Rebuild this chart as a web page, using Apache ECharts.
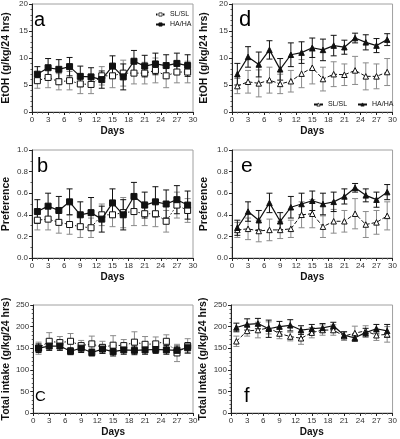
<!DOCTYPE html>
<html><head><meta charset="utf-8">
<script src="https://cdn.jsdelivr.net/npm/echarts@6/dist/echarts.min.js"></script>
<style>html,body{margin:0;padding:0;background:#fff}#c{width:400px;height:439px}</style>
</head><body><div id="c"></div>
<script>
const days = [1,3,5,7,9,11,13,15,17,19,21,23,25,27,29];
// Panel a: EtOH (squares)
const aHA  = [7.0, 8.2, 7.9, 8.4, 6.6, 6.5, 6.0, 8.5, 6.5, 9.4, 8.5, 8.9, 8.6, 9.0, 8.6];
const aHAe = [1.4, 1.7, 1.8, 1.7, 1.9, 1.7, 1.6, 1.9, 2.4, 2.0, 2.0, 2.0, 2.0, 1.9, 2.0];
const aSL  = [5.8, 6.4, 5.6, 5.8, 5.2, 5.1, 6.7, 6.7, 7.2, 7.2, 7.2, 7.7, 6.7, 7.4, 7.4];
const aSLe = [1.4, 1.9, 1.5, 1.7, 1.8, 1.7, 1.7, 2.2, 2.4, 2.0, 2.0, 2.3, 2.2, 2.0, 2.0];
// Panel b: Preference (squares)
const bHA  = [0.43,0.48,0.44,0.52,0.40,0.42,0.36,0.51,0.40,0.57,0.49,0.52,0.50,0.54,0.49];
const bHAe = [0.11,0.12,0.13,0.12,0.12,0.14,0.12,0.13,0.14,0.13,0.12,0.14,0.13,0.13,0.13];
const bSL  = [0.35,0.36,0.33,0.31,0.29,0.28,0.40,0.40,0.42,0.43,0.41,0.41,0.34,0.49,0.44];
const bSLe = [0.09,0.10,0.10,0.09,0.10,0.09,0.10,0.11,0.14,0.13,0.11,0.12,0.10,0.12,0.11];
// Panel c: Total intake (squares)
const cHA  = [150,155,155,143,150,140,148,142,146,145,146,147,146,145,151];
const cHAe = [10,10,10,8,10,8,10,10,10,10,10,9,10,10,12];
const cSL  = [150,166,163,166,156,160,152,157,156,164,159,160,166,139,155];
const cSLe = [14,20,14,18,12,18,14,22,14,24,18,16,15,20,17];
// Panel d: EtOH (triangles)
const dHA  = [7.0,10.2,8.8,11.5,7.9,10.6,11.0,11.9,11.5,12.3,12.0,13.7,12.9,12.3,13.4];
const dHAe = [2.0,1.9,2.3,1.7,2.0,2.2,2.0,1.8,2.0,1.9,1.3,0.9,1.4,1.3,1.1];
const dSL  = [4.8,5.6,5.3,5.9,5.2,5.7,7.1,8.2,6.1,7.0,6.9,7.7,6.6,6.6,7.4];
const dSLe = [1.4,2.1,2.5,2.4,1.8,2.0,2.6,3.0,2.2,2.3,2.0,2.6,2.5,2.3,2.5];
// Panel e: Preference (triangles)
const eHA  = [0.28,0.43,0.35,0.51,0.34,0.47,0.50,0.53,0.50,0.52,0.57,0.65,0.58,0.54,0.61];
const eHAe = [0.07,0.09,0.09,0.09,0.08,0.10,0.10,0.09,0.10,0.09,0.07,0.04,0.06,0.07,0.07];
const eSL  = [0.26,0.27,0.25,0.26,0.26,0.27,0.40,0.41,0.29,0.34,0.34,0.41,0.31,0.33,0.39];
const eSLe = [0.07,0.10,0.10,0.10,0.08,0.08,0.12,0.13,0.10,0.11,0.10,0.14,0.12,0.11,0.13];
// Panel f: Total intake (triangles)
const fHA  = [198,205,207,195,200,203,192,195,197,202,180,174,186,195,190];
const fHAe = [10,13,12,20,12,13,10,10,10,8,8,8,10,10,15];
const fSL  = [166,190,192,197,184,177,173,186,192,192,178,185,190,180,182];
const fSLe = [12,12,18,14,12,10,14,12,12,12,10,16,12,12,18];

const yNames = ['EtOH (g/kg/24 hrs)','Preference','Total intake (g/kg/24 hrs)',
                'EtOH (g/kg/24 hrs)','Preference','Total Intake (g/kg/24 hrs)'];
const yMax = [20,1,250,20,1,250];
const yInt = [5,0.2,50,5,0.2,50];
const panelLetters = ['a','b','C','d','e','f'];

const FONT = 'Liberation Sans, Arial, sans-serif';
const chart = echarts.init(document.getElementById('c'), null, {renderer:'canvas'});

const grids = [
  {left:29, top:2, width:164, height:110},
  {left:28, top:150, width:165, height:108},
  {left:28, top:305, width:165, height:108},
  {left:232, top:2, width:161, height:110},
  {left:232, top:150, width:161, height:108},
  {left:231, top:305, width:162, height:108}
];
const panels = [
  {ha:aHA, hae:aHAe, sl:aSL, sle:aSLe, sym:'rect', dash:[1.5,2]},
  {ha:bHA, hae:bHAe, sl:bSL, sle:bSLe, sym:'rect', dash:[1.5,2]},
  {ha:cHA, hae:cHAe, sl:cSL, sle:cSLe, sym:'rect', dash:[1.5,2]},
  {ha:dHA, hae:dHAe, sl:dSL, sle:dSLe, sym:'triangle', dash:[4,2]},
  {ha:eHA, hae:eHAe, sl:eSL, sle:eSLe, sym:'triangle', dash:[4,2]},
  {ha:fHA, hae:fHAe, sl:fSL, sle:fSLe, sym:'triangle', dash:[4,2]}
];

const axisCommon = {
  axisLine:{show:true, onZero:false, lineStyle:{color:'#222', width:1}},
  axisTick:{show:true, length:3, inside:false, lineStyle:{color:'#222'}},
  splitLine:{show:false},
  axisLabel:{fontSize:8, color:'#333', fontFamily:FONT, margin:4}
};

const xAxes = grids.map((g,i)=>Object.assign({}, axisCommon, {
  type:'value', gridIndex:i, min:0, max:30, interval:3,
  minorTick:{show:true, splitNumber:3, length:1.5, lineStyle:{color:'#555'}},
  name:'Days', nameLocation:'middle', nameGap:14,
  nameTextStyle:{fontSize:10, fontWeight:'bold', color:'#111', fontFamily:FONT}
}));
const yAxes = grids.map((g,i)=>Object.assign({}, axisCommon, {
  type:'value', gridIndex:i, min:0, max:yMax[i], interval:yInt[i],
  minorTick:{show:true, splitNumber:i%3===1?2:5, length:1.5, lineStyle:{color:'#555'}},
  axisLabel:Object.assign({}, axisCommon.axisLabel, {
    formatter: i%3===1 ? (v=>v.toFixed(1)) : (v=>String(v))
  }),
  name:yNames[i], nameLocation:'middle', nameGap: i<3 ? 20 : 22,
  nameTextStyle:{fontSize:10.5, fontWeight:'bold', color:'#111', fontFamily:FONT}
}));

function errRender(color){
  return function(params, api){
    const x = api.value(0), m = api.value(1), e = api.value(2);
    const hi = api.coord([x, m+e]), lo = api.coord([x, m-e]);
    const w = 3;
    const st = {stroke:color, lineWidth:1};
    return {type:'group', children:[
      {type:'line', shape:{x1:hi[0],y1:hi[1],x2:lo[0],y2:lo[1]}, style:st},
      {type:'line', shape:{x1:hi[0]-w,y1:hi[1],x2:hi[0]+w,y2:hi[1]}, style:st},
      {type:'line', shape:{x1:lo[0]-w,y1:lo[1],x2:lo[0]+w,y2:lo[1]}, style:st}
    ]};
  };
}

const series = [];
panels.forEach((p,i)=>{
  const suffix = i===0 ? '' : (i===3 ? ' ' : '_' + i);
  const sz = p.sym==='rect' ? 6 : 5.5;
  series.push({type:'custom', xAxisIndex:i, yAxisIndex:i, clip:false, z:1,
    renderItem:errRender('#8a8a8a'), data:days.map((d,k)=>[d,p.sl[k],p.sle[k]])});
  series.push({type:'custom', xAxisIndex:i, yAxisIndex:i, clip:false, z:1,
    renderItem:errRender('#111'), data:days.map((d,k)=>[d,p.ha[k],p.hae[k]])});
  series.push({type:'line', name:'SL/SL'+suffix, xAxisIndex:i, yAxisIndex:i, z:3,
    symbol:p.sym, symbolSize:sz, showSymbol:true,
    lineStyle:{color:'#111', width:1, type:p.dash},
    itemStyle:{color:'#fff', borderColor:'#111', borderWidth:1},
    animation:false, data:days.map((d,k)=>[d,p.sl[k]])});
  series.push({type:'line', name:'HA/HA'+suffix, xAxisIndex:i, yAxisIndex:i, z:4,
    symbol:p.sym, symbolSize:sz,
    lineStyle:{color:'#111', width:1.2},
    itemStyle:{color:'#111', borderColor:'#111', borderWidth:1},
    animation:false, data:days.map((d,k)=>[d,p.ha[k]])});
});

// [left, baseline, size]
const letterSpec = [[34,27,20],[37,173,20],[35,402,15],[239,27,22],[241,173,21],[244,403,20]];
const graphics = panelLetters.map((t,i)=>({
  type:'text', x:letterSpec[i][0], y:letterSpec[i][1] - letterSpec[i][2]*0.33, z:10,
  style:{text:t, font:'normal '+letterSpec[i][2]+'px '+FONT, fill:'#000',
         verticalAlign:'middle', align:'left'}
}));

const legendText = {fontSize:7, fontFamily:FONT, color:'#111'};
const legendItem = {borderWidth:0.8};
chart.setOption({
  animation:false,
  grid: grids.map(g=>Object.assign({show:true, borderColor:'#a0a0a0', borderWidth:1, backgroundColor:'transparent'}, g)),
  xAxis: xAxes,
  yAxis: yAxes,
  legend:[
    {data:['SL/SL','HA/HA'], orient:'vertical', left:155, top:11, itemGap:3, padding:0,
     itemWidth:9, itemHeight:4, itemStyle:legendItem, textStyle:legendText, selectedMode:false},
    {data:['SL/SL ','HA/HA '], orient:'horizontal', left:313, top:101, width:87, itemGap:8, padding:0,
     itemWidth:9, itemHeight:4, itemStyle:legendItem, textStyle:legendText, selectedMode:false}
  ],
  graphic: graphics,
  series: series
});
</script></body></html>
